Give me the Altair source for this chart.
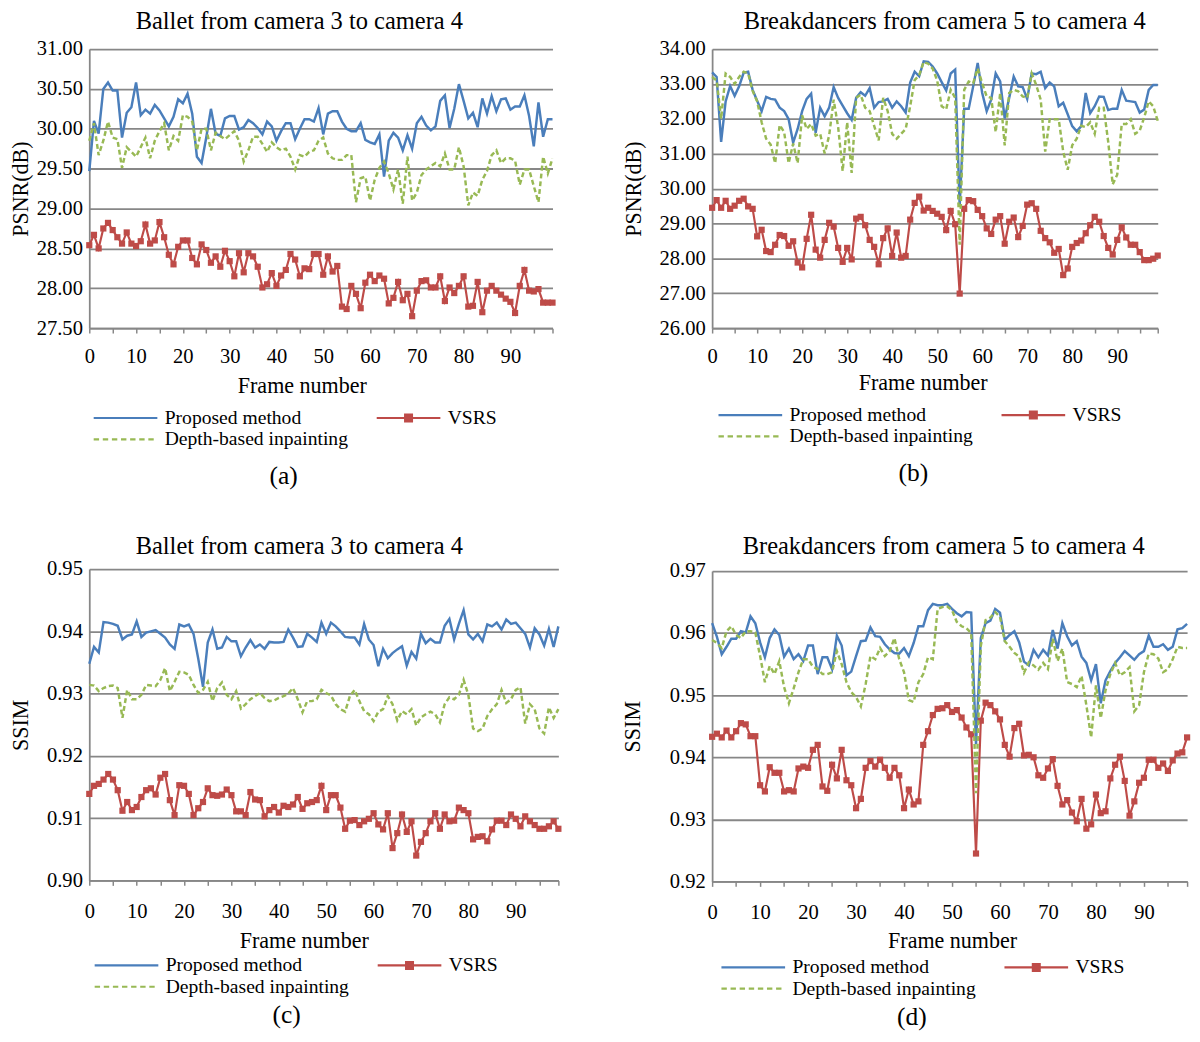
import altair as alt
import pandas as pd

FONT = "Liberation Serif"
GRAY = "#878787"
FRAMES = list(range(100))
# legend order: column 1 = Proposed / Depth-based, column 2 = VSRS
METHODS = ["Proposed method", "Depth-based inpainting", "VSRS"]
COLORS = ["#4a7ebb", "#98b954", "#be4b48"]
C_PROP, C_DEP, C_VSRS = COLORS

X_TICKS = list(range(0, 100, 5)) + [99]
A_YTICKS = [27.5, 28.0, 28.5, 29.0, 29.5, 30.0, 30.5, 31.0]
B_YTICKS = [26.0, 27.0, 28.0, 29.0, 30.0, 31.0, 32.0, 33.0, 34.0]
C_YTICKS = [0.90, 0.91, 0.92, 0.93, 0.94, 0.95]
D_YTICKS = [0.92, 0.93, 0.94, 0.95, 0.96, 0.97]

# ---------------- (a) Ballet PSNR ----------------
a_prop = [29.47, 30.10, 29.94, 30.50, 30.58, 30.48, 30.48, 29.89, 30.20, 30.27,
          30.58, 30.17, 30.24, 30.19, 30.30, 30.23, 30.13, 30.03, 30.15, 30.37,
          30.32, 30.44, 30.19, 29.65, 29.57, 29.89, 30.25, 29.94, 29.91, 30.13,
          30.16, 30.16, 29.99, 30.02, 30.11, 30.07, 30.01, 29.93, 30.09, 30.03,
          29.85, 29.97, 30.07, 30.07, 29.87, 30.00, 30.12, 30.12, 30.09, 30.26,
          29.93, 30.19, 30.22, 30.22, 30.09, 30.00, 29.97, 29.97, 30.07, 29.86,
          29.83, 29.81, 29.93, 29.40, 29.85, 29.95, 29.89, 29.73, 29.92, 29.75,
          30.07, 30.15, 30.04, 29.98, 30.03, 30.35, 30.42, 30.01, 30.25, 30.56,
          30.35, 30.13, 30.20, 30.02, 30.38, 30.19, 30.41, 30.22, 30.37, 30.38,
          30.24, 30.28, 30.28, 30.42, 30.16, 29.78, 30.33, 29.90, 30.12, 30.12]
a_vsrs = [28.54, 28.67, 28.50, 28.75, 28.82, 28.73, 28.64, 28.56, 28.70, 28.56,
          28.53, 28.59, 28.80, 28.56, 28.60, 28.83, 28.64, 28.42, 28.30, 28.52,
          28.60, 28.60, 28.38, 28.30, 28.55, 28.48, 28.32, 28.40, 28.27, 28.47,
          28.34, 28.15, 28.44, 28.20, 28.44, 28.40, 28.27, 28.01, 28.05, 28.19,
          28.03, 28.16, 28.23, 28.43, 28.36, 28.15, 28.25, 28.24, 28.43, 28.43,
          28.17, 28.40, 28.21, 28.28, 27.77, 27.74, 28.03, 27.93, 27.75, 28.07,
          28.17, 28.09, 28.16, 28.12, 27.81, 27.88, 28.08, 27.85, 27.93, 27.65,
          27.97, 28.09, 28.10, 28.01, 28.01, 28.15, 27.84, 28.01, 27.94, 28.03,
          28.15, 27.77, 27.78, 28.08, 27.70, 27.97, 28.03, 27.97, 27.92, 27.87,
          27.83, 27.69, 28.03, 28.23, 27.97, 27.96, 27.99, 27.82, 27.82, 27.82]
a_dep = [29.85, 30.07, 29.67, 29.85, 30.09, 29.89, 29.87, 29.51, 29.77, 29.71,
         29.65, 29.77, 29.89, 29.63, 29.85, 29.97, 30.07, 29.73, 29.91, 29.85,
         30.17, 30.15, 30.09, 29.73, 30.00, 30.00, 29.73, 29.95, 29.91, 29.87,
         29.92, 29.97, 29.85, 29.59, 29.73, 29.90, 29.90, 29.81, 29.71, 29.83,
         29.77, 29.73, 29.75, 29.65, 29.49, 29.67, 29.65, 29.71, 29.73, 29.85,
         29.89, 29.69, 29.63, 29.61, 29.61, 29.67, 29.67, 29.08, 29.38, 29.40,
         29.10, 29.36, 29.51, 29.59, 29.44, 29.24, 29.49, 29.06, 29.65, 29.10,
         29.20, 29.42, 29.49, 29.53, 29.57, 29.53, 29.69, 29.49, 29.49, 29.77,
         29.53, 29.04, 29.20, 29.16, 29.36, 29.47, 29.67, 29.73, 29.57, 29.63,
         29.63, 29.60, 29.30, 29.49, 29.49, 29.28, 29.08, 29.65, 29.44, 29.63]

# ---------------- (b) Breakdancers PSNR ----------------
b_prop = [33.33, 33.20, 31.34, 32.50, 32.94, 32.66, 32.93, 33.32, 33.35, 32.83,
          32.52, 32.22, 32.63, 32.57, 32.55, 32.32, 32.22, 31.99, 31.32, 31.71,
          32.22, 32.57, 32.72, 31.60, 32.32, 32.07, 32.32, 32.91, 32.60, 32.38,
          32.16, 31.97, 32.60, 32.76, 32.66, 32.88, 32.32, 32.48, 32.50, 32.57,
          32.32, 32.50, 32.36, 32.18, 33.04, 33.35, 33.22, 33.65, 33.63, 33.50,
          33.30, 33.05, 32.81, 33.30, 33.41, 29.50, 32.29, 32.29, 32.93, 33.60,
          32.74, 32.22, 32.55, 33.30, 33.07, 32.01, 32.60, 33.21, 32.93, 32.91,
          32.57, 33.30, 33.28, 33.35, 32.88, 33.04, 32.93, 32.36, 32.46, 32.13,
          31.79, 31.64, 31.79, 32.74, 32.16, 32.36, 32.64, 32.63, 32.25, 32.29,
          32.29, 32.83, 32.52, 32.50, 32.48, 32.18, 32.27, 32.83, 32.97, 32.97]
b_vsrs = [29.45, 29.67, 29.45, 29.65, 29.42, 29.51, 29.65, 29.71, 29.49, 29.42,
          28.63, 28.82, 28.21, 28.18, 28.39, 28.67, 28.64, 28.36, 28.49, 27.88,
          27.74, 28.56, 29.25, 28.25, 28.02, 28.53, 29.02, 28.91, 28.30, 27.90,
          28.30, 27.97, 29.14, 29.19, 28.95, 28.53, 28.33, 27.83, 28.58, 28.86,
          28.07, 28.74, 28.02, 28.07, 29.11, 29.59, 29.77, 29.37, 29.45, 29.36,
          29.28, 29.19, 28.81, 29.36, 28.98, 26.99, 29.42, 29.67, 29.64, 29.39,
          29.21, 28.86, 28.70, 29.11, 29.21, 28.42, 29.05, 29.17, 28.61, 28.93,
          29.54, 29.58, 29.42, 28.79, 28.58, 28.46, 28.16, 28.27, 27.52, 27.71,
          28.33, 28.44, 28.51, 28.72, 28.95, 29.19, 29.05, 28.64, 28.30, 28.11,
          28.53, 28.89, 28.60, 28.39, 28.39, 28.18, 27.95, 27.95, 27.99, 28.08]
b_dep = [33.20, 33.10, 32.00, 33.30, 33.20, 33.00, 33.20, 33.35, 33.30, 32.80,
         32.50, 31.90, 31.43, 31.26, 30.73, 31.82, 31.62, 30.73, 31.29, 30.73,
         32.10, 31.71, 31.85, 31.52, 31.57, 31.01, 31.52, 32.55, 31.76, 30.50,
         31.90, 30.45, 32.60, 32.69, 32.32, 32.22, 31.80, 31.38, 32.60, 32.22,
         31.57, 31.43, 31.57, 31.71, 32.36, 33.11, 33.25, 33.63, 33.58, 33.44,
         33.10, 32.36, 32.27, 32.83, 32.60, 28.39, 32.83, 33.07, 33.02, 33.44,
         33.02, 32.64, 32.60, 31.62, 32.74, 31.24, 32.74, 32.83, 32.79, 32.64,
         32.60, 33.30, 32.97, 32.55, 31.06, 31.99, 31.99, 31.99, 31.06, 30.54,
         31.24, 31.43, 31.80, 31.76, 31.90, 31.57, 32.32, 32.32, 31.34, 30.12,
         30.40, 31.85, 31.85, 31.99, 31.57, 31.66, 32.04, 32.50, 32.36, 31.94]

# ---------------- (c) Ballet SSIM ----------------
c_prop = [0.9348, 0.9375, 0.9366, 0.9415, 0.9414, 0.9412, 0.9409, 0.9387, 0.9393, 0.9395,
          0.9416, 0.9391, 0.9398, 0.9400, 0.9402, 0.9396, 0.9390, 0.9379, 0.9372, 0.9411,
          0.9408, 0.9411, 0.9396, 0.9356, 0.9311, 0.9382, 0.9403, 0.9372, 0.9374, 0.9391,
          0.9384, 0.9384, 0.9360, 0.9374, 0.9386, 0.9374, 0.9379, 0.9372, 0.9383, 0.9382,
          0.9382, 0.9383, 0.9403, 0.9390, 0.9375, 0.9376, 0.9396, 0.9390, 0.9383, 0.9414,
          0.9396, 0.9414, 0.9408, 0.9400, 0.9391, 0.9390, 0.9390, 0.9379, 0.9412, 0.9387,
          0.9378, 0.9344, 0.9372, 0.9357, 0.9365, 0.9371, 0.9376, 0.9345, 0.9367, 0.9356,
          0.9396, 0.9381, 0.9388, 0.9382, 0.9382, 0.9409, 0.9420, 0.9387, 0.9412, 0.9434,
          0.9395, 0.9387, 0.9396, 0.9384, 0.9411, 0.9408, 0.9414, 0.9403, 0.9419, 0.9412,
          0.9414, 0.9405, 0.9396, 0.9374, 0.9405, 0.9395, 0.9377, 0.9404, 0.9375, 0.9408]
c_vsrs = [0.9139, 0.9152, 0.9155, 0.9162, 0.9171, 0.9162, 0.9145, 0.9112, 0.9126, 0.9113,
          0.9118, 0.9134, 0.9145, 0.9148, 0.9138, 0.9165, 0.9171, 0.9129, 0.9105, 0.9153,
          0.9152, 0.9139, 0.9105, 0.9116, 0.9126, 0.9148, 0.9137, 0.9136, 0.9138, 0.9146,
          0.9137, 0.9111, 0.9111, 0.9105, 0.9142, 0.9130, 0.9129, 0.9103, 0.9113, 0.9118,
          0.9109, 0.9120, 0.9118, 0.9122, 0.9134, 0.9115, 0.9124, 0.9126, 0.9129, 0.9152,
          0.9113, 0.9137, 0.9137, 0.9117, 0.9083, 0.9096, 0.9097, 0.9089, 0.9095, 0.9099,
          0.9108, 0.9090, 0.9082, 0.9108, 0.9052, 0.9076, 0.9106, 0.9078, 0.9095, 0.9040,
          0.9062, 0.9076, 0.9095, 0.9108, 0.9083, 0.9106, 0.9095, 0.9096, 0.9117, 0.9113,
          0.9108, 0.9066, 0.9070, 0.9071, 0.9063, 0.9082, 0.9096, 0.9096, 0.9089, 0.9106,
          0.9099, 0.9087, 0.9103, 0.9095, 0.9089, 0.9083, 0.9083, 0.9087, 0.9095, 0.9083]
c_dep = [0.9314, 0.9313, 0.9304, 0.9309, 0.9312, 0.9313, 0.9309, 0.9261, 0.9306, 0.9291,
         0.9291, 0.9298, 0.9314, 0.9313, 0.9312, 0.9322, 0.9341, 0.9304, 0.9319, 0.9335,
         0.9334, 0.9330, 0.9314, 0.9301, 0.9306, 0.9319, 0.9288, 0.9309, 0.9318, 0.9298,
         0.9291, 0.9304, 0.9276, 0.9283, 0.9291, 0.9296, 0.9301, 0.9293, 0.9288, 0.9289,
         0.9293, 0.9296, 0.9300, 0.9309, 0.9291, 0.9270, 0.9288, 0.9288, 0.9291, 0.9306,
         0.9301, 0.9297, 0.9283, 0.9275, 0.9271, 0.9296, 0.9306, 0.9288, 0.9272, 0.9267,
         0.9256, 0.9271, 0.9275, 0.9296, 0.9283, 0.9257, 0.9272, 0.9267, 0.9275, 0.9249,
         0.9262, 0.9267, 0.9271, 0.9267, 0.9254, 0.9283, 0.9294, 0.9291, 0.9298, 0.9322,
         0.9298, 0.9244, 0.9240, 0.9244, 0.9264, 0.9275, 0.9283, 0.9306, 0.9285, 0.9291,
         0.9306, 0.9310, 0.9252, 0.9283, 0.9275, 0.9244, 0.9236, 0.9278, 0.9261, 0.9275]

# ---------------- (d) Breakdancers SSIM ----------------
d_prop = [0.9616, 0.9594, 0.9566, 0.9578, 0.9591, 0.9591, 0.9603, 0.9601, 0.9627, 0.9616,
          0.9585, 0.9561, 0.9592, 0.9606, 0.9597, 0.9562, 0.9575, 0.9558, 0.9566, 0.9555,
          0.9580, 0.9580, 0.9534, 0.9561, 0.9561, 0.9542, 0.9596, 0.9580, 0.9532, 0.9538,
          0.9563, 0.9587, 0.9588, 0.9609, 0.9595, 0.9594, 0.9582, 0.9574, 0.9568, 0.9567,
          0.9576, 0.9563, 0.9584, 0.9611, 0.9611, 0.9637, 0.9647, 0.9645, 0.9645, 0.9647,
          0.9639, 0.9632, 0.9627, 0.9634, 0.9633, 0.9421, 0.9592, 0.9616, 0.9620, 0.9639,
          0.9633, 0.9589, 0.9597, 0.9603, 0.9585, 0.9554, 0.9548, 0.9573, 0.9561, 0.9573,
          0.9564, 0.9605, 0.9575, 0.9616, 0.9595, 0.9580, 0.9587, 0.9562, 0.9552, 0.9524,
          0.9550, 0.9487, 0.9524, 0.9539, 0.9552, 0.9561, 0.9571, 0.9564, 0.9557, 0.9566,
          0.9571, 0.9596, 0.9578, 0.9578, 0.9582, 0.9573, 0.9578, 0.9606, 0.9608, 0.9615]
d_vsrs = [0.9433, 0.9438, 0.9432, 0.9443, 0.9432, 0.9442, 0.9455, 0.9453, 0.9434, 0.9434,
          0.9355, 0.9345, 0.9384, 0.9375, 0.9375, 0.9345, 0.9347, 0.9345, 0.9382, 0.9385,
          0.9383, 0.9412, 0.9420, 0.9353, 0.9346, 0.9388, 0.9366, 0.9412, 0.9363, 0.9355,
          0.9318, 0.9333, 0.9383, 0.9394, 0.9385, 0.9396, 0.9383, 0.9367, 0.9383, 0.9371,
          0.9318, 0.9348, 0.9324, 0.9329, 0.9420, 0.9442, 0.9468, 0.9478, 0.9479, 0.9484,
          0.9473, 0.9476, 0.9464, 0.9448, 0.9437, 0.9245, 0.9459, 0.9488, 0.9484, 0.9474,
          0.9461, 0.9420, 0.9401, 0.9447, 0.9454, 0.9403, 0.9404, 0.9400, 0.9371, 0.9367,
          0.9382, 0.9397, 0.9354, 0.9324, 0.9331, 0.9311, 0.9297, 0.9333, 0.9285, 0.9292,
          0.9340, 0.9310, 0.9313, 0.9366, 0.9388, 0.9401, 0.9362, 0.9306, 0.9329, 0.9359,
          0.9367, 0.9396, 0.9396, 0.9383, 0.9390, 0.9378, 0.9395, 0.9406, 0.9408, 0.9432]
d_dep = [0.9589, 0.9584, 0.9576, 0.9603, 0.9611, 0.9597, 0.9592, 0.9603, 0.9603, 0.9601,
         0.9563, 0.9521, 0.9547, 0.9534, 0.9555, 0.9513, 0.9487, 0.9511, 0.9537, 0.9558,
         0.9558, 0.9546, 0.9542, 0.9534, 0.9534, 0.9537, 0.9571, 0.9550, 0.9521, 0.9505,
         0.9497, 0.9482, 0.9518, 0.9563, 0.9558, 0.9576, 0.9563, 0.9571, 0.9592, 0.9558,
         0.9537, 0.9492, 0.9489, 0.9521, 0.9534, 0.9561, 0.9558, 0.9639, 0.9642, 0.9643,
         0.9637, 0.9618, 0.9611, 0.9608, 0.9600, 0.9342, 0.9579, 0.9621, 0.9625, 0.9634,
         0.9626, 0.9587, 0.9578, 0.9568, 0.9562, 0.9536, 0.9553, 0.9548, 0.9541, 0.9552,
         0.9542, 0.9591, 0.9555, 0.9575, 0.9521, 0.9518, 0.9513, 0.9531, 0.9484, 0.9432,
         0.9516, 0.9463, 0.9508, 0.9534, 0.9552, 0.9532, 0.9537, 0.9545, 0.9474, 0.9484,
         0.9537, 0.9567, 0.9566, 0.9559, 0.9537, 0.9542, 0.9558, 0.9578, 0.9576, 0.9576]


# legend swatch shapes (unit = 10 px)
def dash_path(x0, x1, dash, gap):
    segs, x = [], x0
    while x < x1 - 1e-9:
        e = min(x + dash, x1)
        segs.append(f"M{x:.2f},0H{e:.2f}")
        x = e + gap
    return "".join(segs)


LINE_PATH = "M-1,0H5.5"
VSRS_PATH = "M-1,0H5.5M1.9,-0.35H2.6V0.35H1.9Z"
DASH_PATH = dash_path(-1, 5.5, 0.55, 0.38)
PATHS = [LINE_PATH, DASH_PATH, VSRS_PATH]


def indep(ch):
    return ch.resolve_scale(fill="independent", stroke="independent",
                            shape="independent").resolve_legend(
        fill="independent", stroke="independent", shape="independent")


def panel(prop, vsrs, dep, title, title_dx, title_offset, ytitle, ytitle_x,
          ydom, yticks, w, h, xlab_pad, xt_x, xt_y, legx, legy, caption,
          cap_dx, cap_offset):
    df = pd.DataFrame({"frame": FRAMES, "prop": prop, "vsrs": vsrs, "dep": dep,
                       "method": "Proposed method"})
    xs = alt.Scale(domain=[0, 99], nice=False, zero=False)
    ys = alt.Scale(domain=ydom, nice=False, zero=False)
    xaxis = alt.Axis(values=X_TICKS,
                     labelExpr="datum.value % 10 == 0 ? datum.label : ''",
                     title="Frame number", titleX=xt_x, titleY=xt_y,
                     titleBaseline="alphabetic", titleAlign="center",
                     titleFont=FONT, titleFontSize=22.5, titleFontWeight="normal",
                     titleColor="black", labelFont=FONT, labelFontSize=21,
                     labelColor="black", labelBaseline="alphabetic",
                     labelPadding=xlab_pad, tickSize=5, tickColor=GRAY,
                     tickWidth=1.5, domainColor=GRAY, domainWidth=1.8,
                     grid=False, labelFlush=False, labelOverlap=False)
    yaxis = alt.Axis(values=yticks, format=".2f", title=ytitle,
                     titleX=ytitle_x, titleY=h / 2, titleAngle=270,
                     titleAlign="center", titleBaseline="alphabetic",
                     titleFont=FONT, titleFontSize=22.5, titleFontWeight="normal",
                     titleColor="black", labelFont=FONT, labelFontSize=21,
                     labelColor="black", labelPadding=7, ticks=False,
                     domainColor=GRAY, domainWidth=1.8, grid=True,
                     gridColor=GRAY, gridWidth=1.8, labelOverlap=False,
                     labelFlush=False)
    base = alt.Chart(df)
    x = alt.X("frame:Q", scale=xs, axis=xaxis)

    def yy(f):
        return alt.Y(f + ":Q", scale=ys, axis=yaxis)

    l_prop = base.mark_line(color=C_PROP, strokeWidth=2.5).encode(x=x, y=yy("prop"))
    l_vsrs = base.mark_line(color=C_VSRS, strokeWidth=2.2).encode(x=x, y=yy("vsrs"))
    p_vsrs = base.mark_point(shape="square", filled=True, size=40, color=C_VSRS,
                             opacity=1).encode(x=x, y=yy("vsrs"))
    l_dep = base.mark_line(color=C_DEP, strokeWidth=2.5,
                           strokeDash=[5, 3]).encode(x=x, y=yy("dep"))
    leg = alt.Legend(orient="none", legendX=legx, legendY=legy, columns=2,
                     title=None, labelFont=FONT, labelFontSize=20,
                     labelColor="black", labelOffset=51, symbolSize=400,
                     symbolStrokeWidth=2.2, columnPadding=24, rowPadding=0,
                     padding=0, labelLimit=600)
    key = base.transform_filter("false").mark_point(opacity=1, strokeWidth=2.2).encode(
        x=x, y=yy("prop"),
        fill=alt.Fill("method:N", scale=alt.Scale(domain=METHODS, range=COLORS), legend=leg),
        stroke=alt.Stroke("method:N", scale=alt.Scale(domain=METHODS, range=COLORS), legend=leg),
        shape=alt.Shape("method:N", scale=alt.Scale(domain=METHODS, range=PATHS), legend=leg),
    )
    inner = alt.layer(l_prop, l_vsrs, p_vsrs, l_dep, key).properties(
        width=w, height=h,
        title=alt.TitleParams(title, font=FONT, fontSize=25, fontWeight="normal",
                              color="black", anchor="middle", dx=title_dx,
                              offset=title_offset, baseline="alphabetic"))
    return indep(alt.vconcat(inner, title=alt.TitleParams(
        caption, orient="bottom", anchor="middle", frame="bounds", dx=cap_dx,
        offset=cap_offset, font=FONT, fontSize=26, fontWeight="normal",
        color="black", baseline="top")))


pa = panel(a_prop, a_vsrs, a_dep, "Ballet from camera 3 to camera 4", -22, -16,
           "PSNR(dB)", -63, [27.5, 31.0], A_YTICKS, 473, 285, 30, 217, 66, 3, 365,
           "(a)", 0, 14)
pb = panel(b_prop, b_vsrs, b_dep, "Breakdancers from camera 5 to camera 4", 10, -16,
           "PSNR(dB)", -73, [26.0, 34.0], B_YTICKS, 455, 285, 30, 215, 63, 5, 362,
           "(b)", 21, 14)
pc = panel(c_prop, c_vsrs, c_dep, "Ballet from camera 3 to camera 4", -25, -21,
           "SSIM", -63, [0.90, 0.95], C_YTICKS, 479, 318, 33, 219, 68, 4, 393,
           "(c)", 0, 6)
pd_ = panel(d_prop, d_vsrs, d_dep, "Breakdancers from camera 5 to camera 4", -6, -19,
            "SSIM", -74, [0.92, 0.97], D_YTICKS, 485, 317, 33, 245, 67, 8, 393,
            "(d)", 5, 6)

chart = indep(alt.hconcat(
    indep(alt.vconcat(pa, pc, spacing=47)),
    indep(alt.vconcat(pb, pd_, spacing=50)),
    spacing=60,
)).properties(padding={"top": -9, "left": 2, "right": 0, "bottom": 0},
              background="white").configure_view(stroke=None)

chart.save("out.html", embed_options={"renderer": "svg", "actions": False})
